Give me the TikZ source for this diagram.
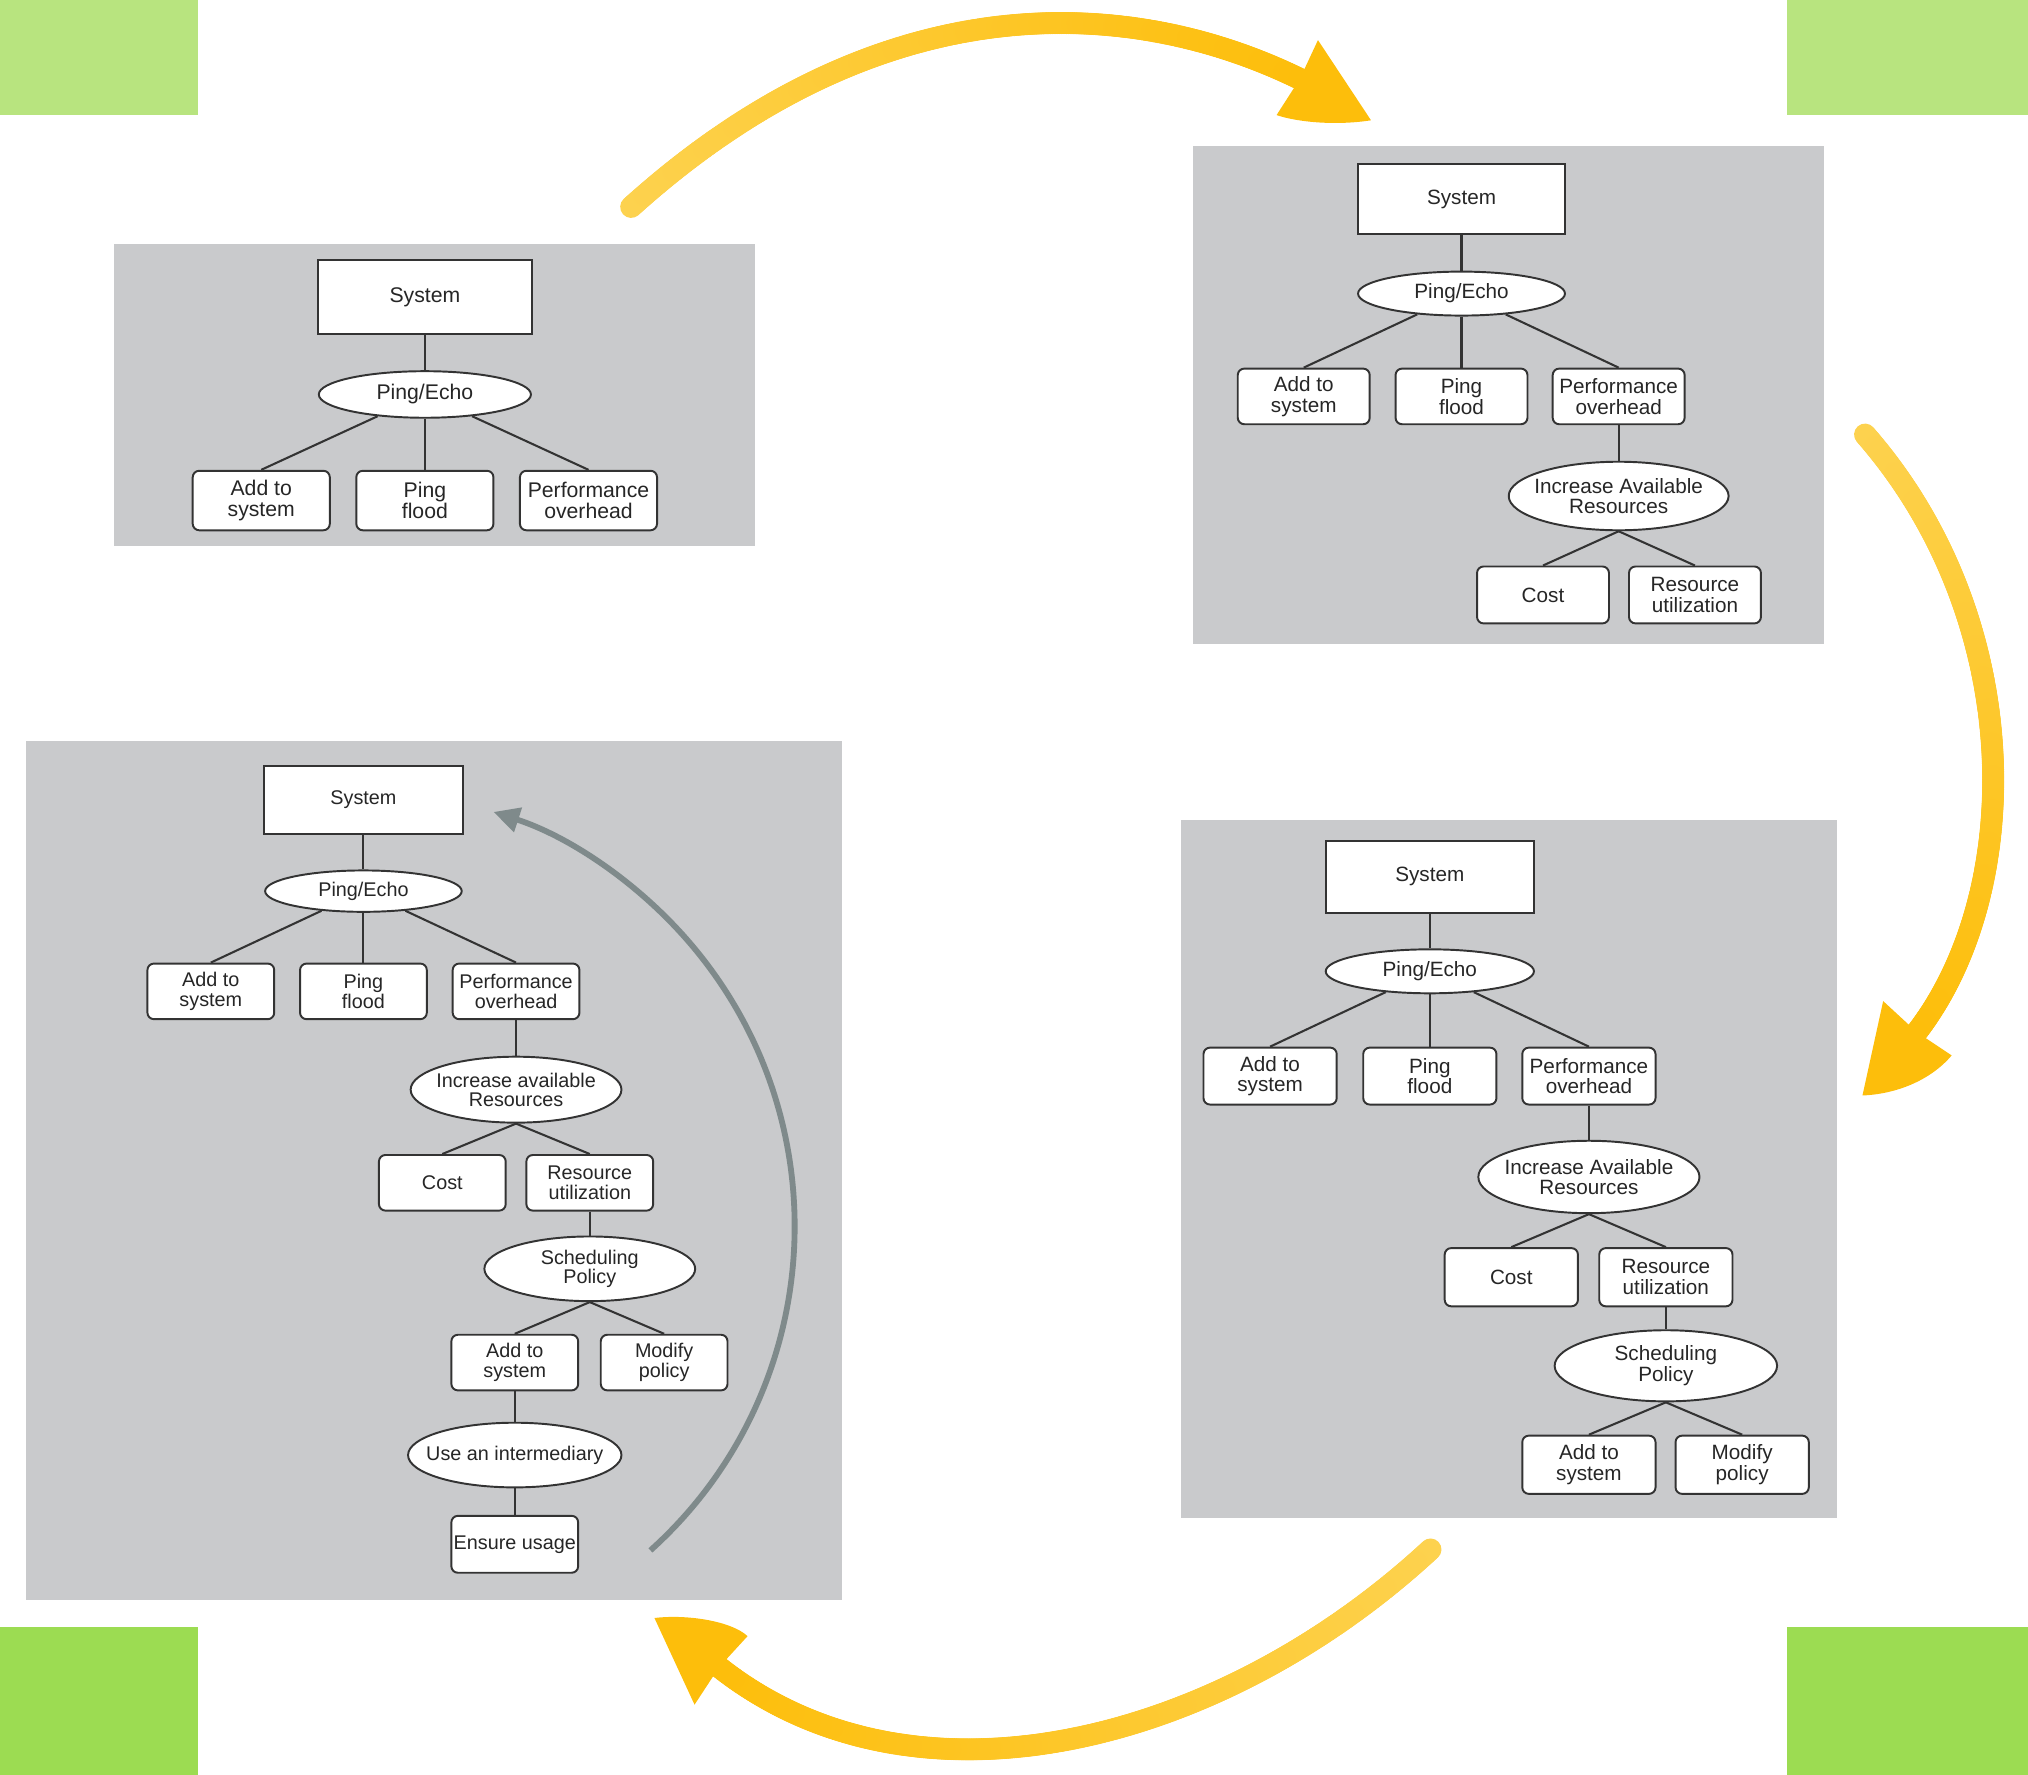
\documentclass[tikz,border=0pt]{standalone}
\usepackage{fontspec}
\setmainfont{Liberation Sans}
\usetikzlibrary{shapes.geometric,arrows.meta,decorations.markings}
\definecolor{panelgray}{HTML}{C9CACC}
\definecolor{linec}{HTML}{333333}
\definecolor{textc}{HTML}{262626}
\definecolor{greenT}{HTML}{B8E47F}
\definecolor{greenB}{HTML}{9CDC52}
\definecolor{yellowA}{HTML}{FDD24F}
\definecolor{yellowB}{HTML}{FDBE0B}
\definecolor{garrowc}{HTML}{7F8A8B}
\tikzset{
  sysbox/.style={draw=linec, line width=1.6pt, fill=white, inner sep=0pt, text=textc},
  leaf/.style={draw=linec, line width=1.5pt, fill=white, rounded corners=5pt, align=center, inner sep=0pt, text=textc},
  oval/.style={ellipse, draw=linec, line width=1.5pt, fill=white, align=center, inner xsep=-14pt, inner ysep=0pt, text=textc},
  conn/.style={draw=linec, line width=1.6pt},
  sz/.style 2 args={minimum width=#1pt, minimum height=#2pt},
  fA/.style={font=\fontsize{16.4pt}{16pt}\selectfont},
  fB/.style={font=\fontsize{16pt}{16pt}\selectfont},
  fC/.style={font=\fontsize{15.3pt}{15pt}\selectfont},
  garrow/.style={draw=garrowc, line width=4.5pt, -{Triangle[length=20pt,width=19pt]}},
  ygrad/.style={decoration={markings, mark=between positions 0 and 1 step 0.0025 with {\pgfmathsetmacro\ymix{max(0,100-0.25*\pgfkeysvalueof{/pgf/decoration/mark info/sequence number})}\fill[yellowA!\ymix!yellowB] (0,0) circle (8.5pt);}}},
}
\begin{document}
\begin{tikzpicture}[x=1pt,y=-1pt]
\useasboundingbox (0,0) rectangle (1568,1372);
% corner squares
\fill[greenT] (0,0) rectangle (153,89);
\fill[greenT] (1382,0) rectangle (1568,89);
\fill[greenB] (0,1258) rectangle (153,1372);
\fill[greenB] (1382,1258) rectangle (1568,1372);
% panels
\fill[panelgray] (88,189) rectangle (584,422);
\fill[panelgray] (922,113) rectangle (1410,498);
\fill[panelgray] (20,573) rectangle (651,1237);
\fill[panelgray] (913,634) rectangle (1420,1174);

% ---------- panel 1 ----------
\node[sysbox, fA, sz={165}{57}] (s1) at (328.5,229.5) {System};
\node[oval, fA, sz={164}{36}] (e1) at (328.5,305) {Ping/Echo};
\node[leaf, fA, sz={106}{46}] (a1) at (202,387) {Add to\\system};
\node[leaf, fA, sz={106}{46}] (p1) at (328.5,387) {Ping\\flood};
\node[leaf, fA, sz={106}{46}] (o1) at (455,387) {Performance\\overhead};
\draw[conn] (s1) -- (e1);
\draw[conn] (e1) -- (a1.north);
\draw[conn] (e1) -- (p1);
\draw[conn] (e1) -- (o1.north);

% ---------- panel 2 ----------
\node[sysbox, fB, sz={160}{54}] (s2) at (1130,154) {System};
\node[oval, fB, sz={160}{34}] (e2) at (1130,227) {Ping/Echo};
\node[leaf, fB, sz={102}{43}] (a2) at (1008,306.5) {Add to\\system};
\node[leaf, fB, sz={102}{43}] (p2) at (1130,306.5) {Ping\\flood};
\node[leaf, fB, sz={102}{43}] (o2) at (1251.5,306.5) {Performance\\overhead};
\node[oval, fB, sz={170}{53}] (i2) at (1251.5,383.5) {Increase Available\\Resources};
\node[leaf, fB, sz={102}{44}] (c2) at (1193,460) {Cost};
\node[leaf, fB, sz={102}{44}] (r2) at (1310.5,460) {Resource\\utilization};
\draw[conn] (s2) -- (e2);
\draw[conn] (e2) -- (a2.north);
\draw[conn] (e2) -- (p2);
\draw[conn] (e2) -- (o2.north);
\draw[conn] (o2) -- (i2);
\draw[conn] (i2.south) -- (c2.north);
\draw[conn] (i2.south) -- (r2.north);

% ---------- panel 4 ----------
\node[sysbox, fB, sz={161}{56}] (s4) at (1105.5,678) {System};
\node[oval, fB, sz={161}{34}] (e4) at (1105.5,751) {Ping/Echo};
\node[leaf, fB, sz={103}{44}] (a4) at (982,832) {Add to\\system};
\node[leaf, fB, sz={103}{44}] (p4) at (1105.5,832) {Ping\\flood};
\node[leaf, fB, sz={103}{44}] (o4) at (1228.5,832) {Performance\\overhead};
\node[oval, fB, sz={171}{56}] (i4) at (1228.5,910) {Increase Available\\Resources};
\node[leaf, fB, sz={103}{45}] (c4) at (1168.5,987.5) {Cost};
\node[leaf, fB, sz={103}{45}] (r4) at (1288,987.5) {Resource\\utilization};
\node[oval, fB, sz={172}{55}] (sp4) at (1288,1056) {Scheduling\\Policy};
\node[leaf, fB, sz={103}{45}] (as4) at (1228.5,1132.5) {Add to\\system};
\node[leaf, fB, sz={103}{45}] (mp4) at (1347,1132.5) {Modify\\policy};
\draw[conn] (s4) -- (e4);
\draw[conn] (e4) -- (a4.north);
\draw[conn] (e4) -- (p4);
\draw[conn] (e4) -- (o4.north);
\draw[conn] (o4) -- (i4);
\draw[conn] (i4.south) -- (c4.north);
\draw[conn] (i4.south) -- (r4.north);
\draw[conn] (r4) -- (sp4);
\draw[conn] (sp4.south) -- (as4.north);
\draw[conn] (sp4.south) -- (mp4.north);

% ---------- panel 3 ----------
\node[sysbox, fC, sz={154}{53}] (s3) at (281,618.5) {System};
\node[oval, fC, sz={152}{32}] (e3) at (281,689) {Ping/Echo};
\node[leaf, fC, sz={98}{43}] (a3) at (163,766.5) {Add to\\system};
\node[leaf, fC, sz={98}{43}] (p3) at (281,766.5) {Ping\\flood};
\node[leaf, fC, sz={98}{43}] (o3) at (399,766.5) {Performance\\overhead};
\node[oval, fC, sz={163}{51}] (i3) at (399,842.5) {Increase available\\Resources};
\node[leaf, fC, sz={98}{43}] (c3) at (342,914.5) {Cost};
\node[leaf, fC, sz={98}{43}] (r3) at (456,914.5) {Resource\\utilization};
\node[oval, fC, sz={163}{50}] (sp3) at (456,981) {Scheduling\\Policy};
\node[leaf, fC, sz={98}{43}] (as3) at (398,1053.5) {Add to\\system};
\node[leaf, fC, sz={98}{43}] (mp3) at (513.5,1053.5) {Modify\\policy};
\node[oval, fC, sz={165}{50}] (ui3) at (398,1125) {Use an intermediary};
\node[leaf, fC, sz={98}{44}] (eu3) at (398,1194) {Ensure usage};
\draw[conn] (s3) -- (e3);
\draw[conn] (e3) -- (a3.north);
\draw[conn] (e3) -- (p3);
\draw[conn] (e3) -- (o3.north);
\draw[conn] (o3) -- (i3);
\draw[conn] (i3.south) -- (c3.north);
\draw[conn] (i3.south) -- (r3.north);
\draw[conn] (r3) -- (sp3);
\draw[conn] (sp3.south) -- (as3.north);
\draw[conn] (sp3.south) -- (mp3.north);
\draw[conn] (as3) -- (ui3);
\draw[conn] (ui3) -- (eu3);
% gray feedback arrow
\draw[garrow] (502.9,1198.7) arc[start angle=-48, end angle=72, radius=337pt];

% ---------- yellow arrows ----------
% top
\path[ygrad, decorate] (488,160) .. controls (682,-15) and (874,-3) .. (1005,61);
\fill[yellowB] (1019,31) -- (1060,93) .. controls (1035,97) and (1005,95) .. (987,89) -- (1005,61) -- cycle;
% right
\path[ygrad, decorate] (1442,336) .. controls (1567,479) and (1566,689) .. (1482,798);
\fill[yellowB] (1456,774) -- (1482,798) -- (1509,816) .. controls (1492,836) and (1465,846) .. (1440,847) -- cycle;
% bottom
\path[ygrad, decorate] (1106,1198) .. controls (944,1348) and (708,1409) .. (556,1289);
\fill[yellowB] (506,1251) .. controls (530,1248) and (565,1253) .. (578,1265) -- (556,1289) -- (537,1318) -- cycle;
\end{tikzpicture}
\end{document}
